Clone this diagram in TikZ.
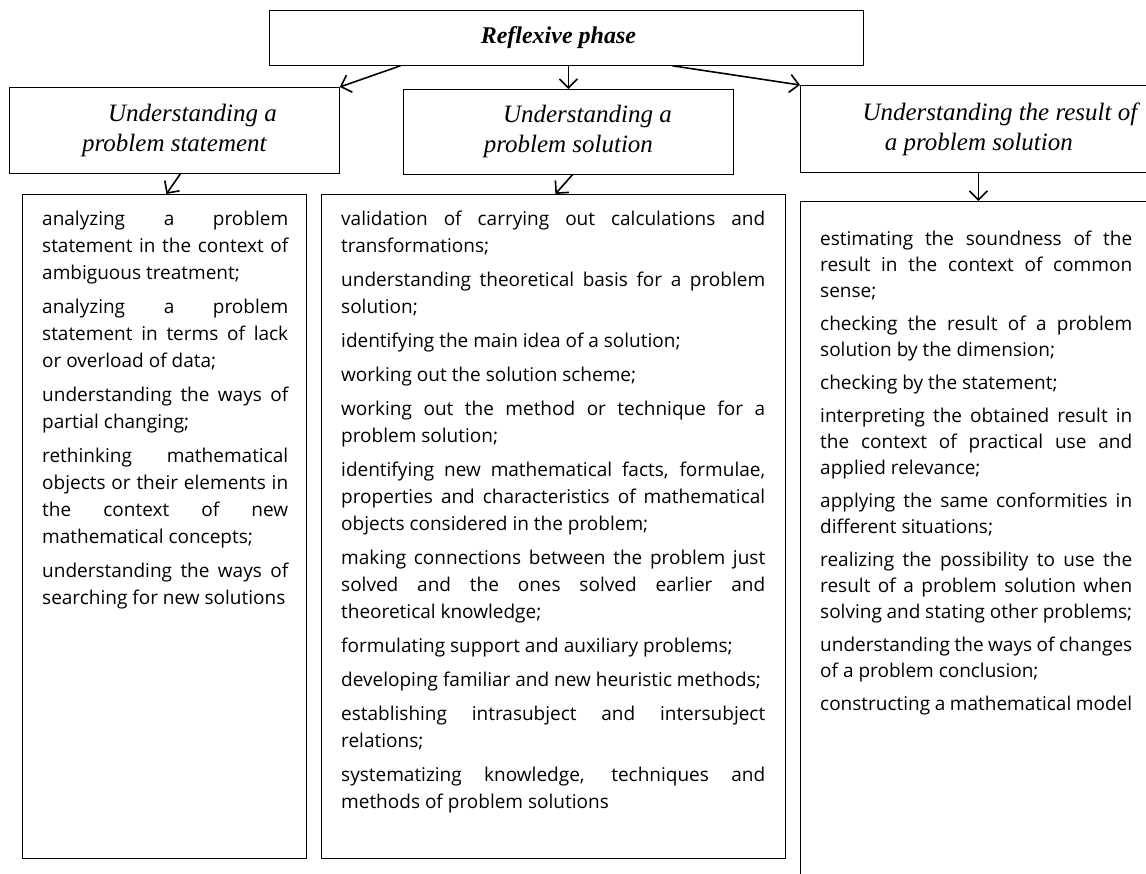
\documentclass[tikz,border=0pt]{standalone}
\usepackage{fontspec}
\setmainfont{Liberation Serif}
\newfontfamily\bodyfont{Open Sans}
\usetikzlibrary{arrows.meta}

\begin{document}
\begin{tikzpicture}[x=1pt, y=-1pt,
    box/.style={draw, line width=0.8pt, inner sep=0pt, anchor=north west},
    phasetext/.style={font=\fontsize{24}{28}\selectfont\bfseries\itshape},
    headtext/.style={font=\fontsize{25}{30}\selectfont\itshape, align=center},
    itemtext/.style={font=\fontsize{19}{27}\selectfont\bodyfont, align=justify,
      anchor=north west, inner sep=0pt,
      execute at begin node={\parindent=0pt\parskip=7pt\tolerance=10000\hbadness=10000\hfuzz=8pt\hyphenpenalty=10000}},
    arr/.style={-{Straight Barb[length=9pt,width=18pt]}, line width=1.6pt}
   ]
  \useasboundingbox (0,0) rectangle (1146,874);

  % top of the scheme
  \node[box, phasetext, minimum width=594pt, minimum height=55pt] (phase) at (269,10)
    {Reflexive phase\hspace*{16pt}};

  % the three kinds of understanding
  \node[box, headtext, minimum width=330pt, minimum height=86pt] (lhead) at (9,87)
    {\hspace*{36pt}Understanding a\\ problem statement};
  \node[box, headtext, minimum width=330pt, minimum height=85pt] (mhead) at (403,89)
    {\hspace*{38pt}Understanding a\\ problem solution};
  \node[box, headtext, minimum width=440pt, minimum height=87pt] (rhead) at (800,85)
    {Understanding the result of\hspace*{41pt}\\ a problem solution\hspace*{83pt}};

  % lists of actions
  \node[box, minimum width=284pt, minimum height=664pt] (lbox) at (22,194) {};
  \node[box, minimum width=464pt, minimum height=664pt] (mbox) at (321,194) {};
  \node[box, minimum width=440pt, minimum height=700pt] (rbox) at (800,201) {};

  \node[itemtext, text width=246pt] (ltext) at ([xshift=20pt, yshift=-12pt]lbox.north west) {\strut
    analyzing a problem\linebreak statement in the context of\linebreak ambiguous treatment;\par
    analyzing a problem\linebreak statement in terms of lack\linebreak or overload of data;\par
    understanding the ways of\linebreak partial changing;\par
    rethinking mathematical\linebreak objects or their elements in\linebreak the context of new\linebreak mathematical concepts;\par
    understanding the ways of\linebreak searching for new solutions};

  \node[itemtext, text width=424pt] (mtext) at ([xshift=20pt, yshift=-12pt]mbox.north west) {\strut
    validation of carrying out calculations and\linebreak transformations;\par
    understanding theoretical basis for a problem\linebreak solution;\par
    identifying the main idea of a solution;\par
    working out the solution scheme;\par
    working out the method or technique for a\linebreak problem solution;\par
    identifying new mathematical facts, formulae,\linebreak properties and characteristics of mathematical\linebreak objects considered in the problem;\par
    making connections between the problem just\linebreak solved and the ones solved earlier and\linebreak theoretical knowledge;\par
    formulating support and auxiliary problems;\par
    developing familiar and new heuristic methods;\par
    establishing intrasubject and intersubject\linebreak relations;\par
    systematizing knowledge, techniques and\linebreak methods of problem solutions};

  \node[itemtext, text width=312pt, font=\fontsize{19}{26}\selectfont\bodyfont] (rtext)
    at ([xshift=20pt, yshift=-26pt]rbox.north west) {\strut
    estimating the soundness of the\linebreak result in the context of common\linebreak sense;\par
    checking the result of a problem\linebreak solution by the dimension;\par
    checking by the statement;\par
    interpreting the obtained result in\linebreak the context of practical use and\linebreak applied relevance;\par
    applying the same conformities in\linebreak different situations;\par
    realizing the possibility to use the\linebreak result of a problem solution when\linebreak solving and stating other problems;\par
    understanding the ways of changes\linebreak of a problem conclusion;\par
    constructing a mathematical model};

  % arrows
  \draw[arr] ([xshift=-166pt]phase.south) -- (lhead.north east);
  \draw[arr] (mhead.north |- phase.south) -- (mhead.north);
  \draw[arr] ([xshift=106pt]phase.south) -- (rhead.north west);
  \draw[arr] ([xshift=6pt]lhead.south) -- ([xshift=2pt]lbox.north);
  \draw[arr] ([xshift=4pt]mhead.south) -- ([xshift=2pt]mbox.north);
  \draw[arr] ([xshift=-42pt]rhead.south) -- ([xshift=-42pt]rhead.south |- rbox.north);
\end{tikzpicture}
\end{document}
